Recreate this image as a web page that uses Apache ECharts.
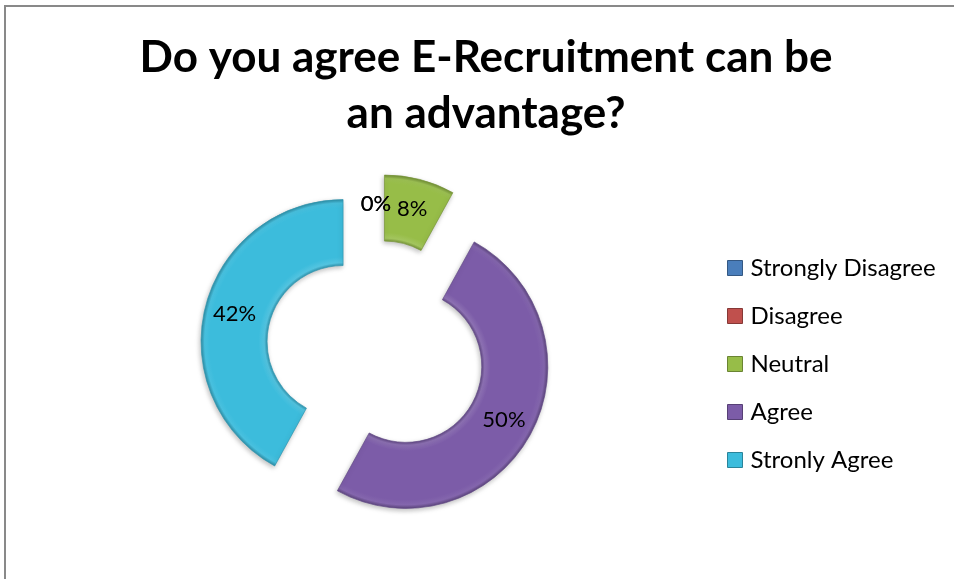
<!DOCTYPE html>
<html>
<head>
<meta charset="utf-8">
<title>E-Recruitment survey</title>
<script src="https://cdn.jsdelivr.net/npm/echarts@6/dist/echarts.min.js"></script>
<style>
  html, body { margin: 0; padding: 0; background: #fff; }
  #chart { width: 954px; height: 579px; }
</style>
</head>
<body>
<div id="chart"></div>
<script>
// Survey answers and their share of respondents (%)
const categories = ['Strongly Disagree', 'Disagree', 'Neutral', 'Agree', 'Stronly Agree'];
const shares = [0, 0, 8, 50, 42];
const sliceColors = ['#4a7ebb', '#c0504d', '#97bd48', '#7c5ca8', '#3cbcdc'];
const titleLines = ['Do you agree E-Recruitment can be', 'an advantage?'];

const FONT = 'Lato, "Open Sans", sans-serif';
const pieCenter = [376, 350];
const innerR = 76, outerR = 142, explode = 34;

// darken (f < 0) or lighten (f > 0) a hex colour
function shade(hex, f) {
  const n = parseInt(hex.slice(1), 16);
  const r = (n >> 16) & 255, g = (n >> 8) & 255, b = n & 255;
  const mix = (c) => f < 0 ? Math.round(c * (1 + f)) : Math.round(c + (255 - c) * f);
  return 'rgb(' + mix(r) + ',' + mix(g) + ',' + mix(b) + ')';
}

// Ring gradient in the sector's own (untranslated) space:
// thin shaded rims along the inner and outer arcs.
const k = innerR / outerR;
const pieData = categories.map((name, i) => {
  const base = sliceColors[i];
  return {
    name: name,
    value: shares[i],
    selected: true,
    itemStyle: {
      color: {
        type: 'radial', x: pieCenter[0], y: pieCenter[1], r: outerR, global: true,
        colorStops: [
          { offset: 0, color: base },
          { offset: k, color: shade(base, -0.2) },
          { offset: k + 0.02, color: shade(base, 0.12) },
          { offset: k + 0.06, color: base },
          { offset: 0.94, color: base },
          { offset: 0.975, color: shade(base, 0.06) },
          { offset: 1, color: shade(base, -0.25) }
        ]
      },
      borderColor: shares[i] > 0 ? shade(base, -0.2) : 'rgba(0,0,0,0)',
      borderWidth: 0.7,
      shadowBlur: shares[i] > 0 ? 5 : 0,
      shadowColor: 'rgba(0,0,0,0.25)',
      shadowOffsetX: -1,
      shadowOffsetY: 2
    }
  };
});

const legendData = categories.map((name, i) => ({
  name: name,
  itemStyle: { color: sliceColors[i], borderColor: shade(sliceColors[i], -0.3), borderWidth: 1 }
}));

const chart = echarts.init(document.getElementById('chart'));
chart.setOption({
  animation: false,
  color: sliceColors,
  title: {
    text: titleLines.join('\n'),
    left: 481,
    top: 25,
    textAlign: 'center',
    textStyle: {
      fontFamily: FONT,
      fontWeight: 'bold',
      fontSize: 44,
      lineHeight: 56,
      color: '#000'
    }
  },
  legend: {
    orient: 'vertical',
    left: 722,
    top: 251,
    itemWidth: 15,
    itemHeight: 15,
    itemGap: 24,
    icon: 'rect',
    selectedMode: false,
    data: legendData,
    textStyle: { fontFamily: FONT, fontSize: 24, color: '#000', padding: [0, 0, 0, 3] }
  },
  graphic: [{
    type: 'rect',
    silent: true,
    z: -1,
    shape: { x: 5, y: 6, width: 1200, height: 900 },
    style: { fill: 'none', stroke: '#898989', lineWidth: 2 }
  }],
  series: [{
    type: 'pie',
    center: pieCenter,
    radius: [innerR, outerR],
    startAngle: 90,
    clockwise: true,
    selectedMode: 'multiple',
    selectedOffset: explode,
    avoidLabelOverlap: false,
    stillShowZeroSum: true,
    minShowLabelAngle: -1,
    labelLayout: { hideOverlap: false },
    emphasis: { disabled: true },
    select: { disabled: false },
    label: {
      show: true,
      position: 'inside',
      formatter: '{d}%',
      fontFamily: FONT,
      fontSize: 22,
      color: '#000'
    },
    labelLine: { show: false },
    data: pieData
  }]
});
</script>
</body>
</html>
